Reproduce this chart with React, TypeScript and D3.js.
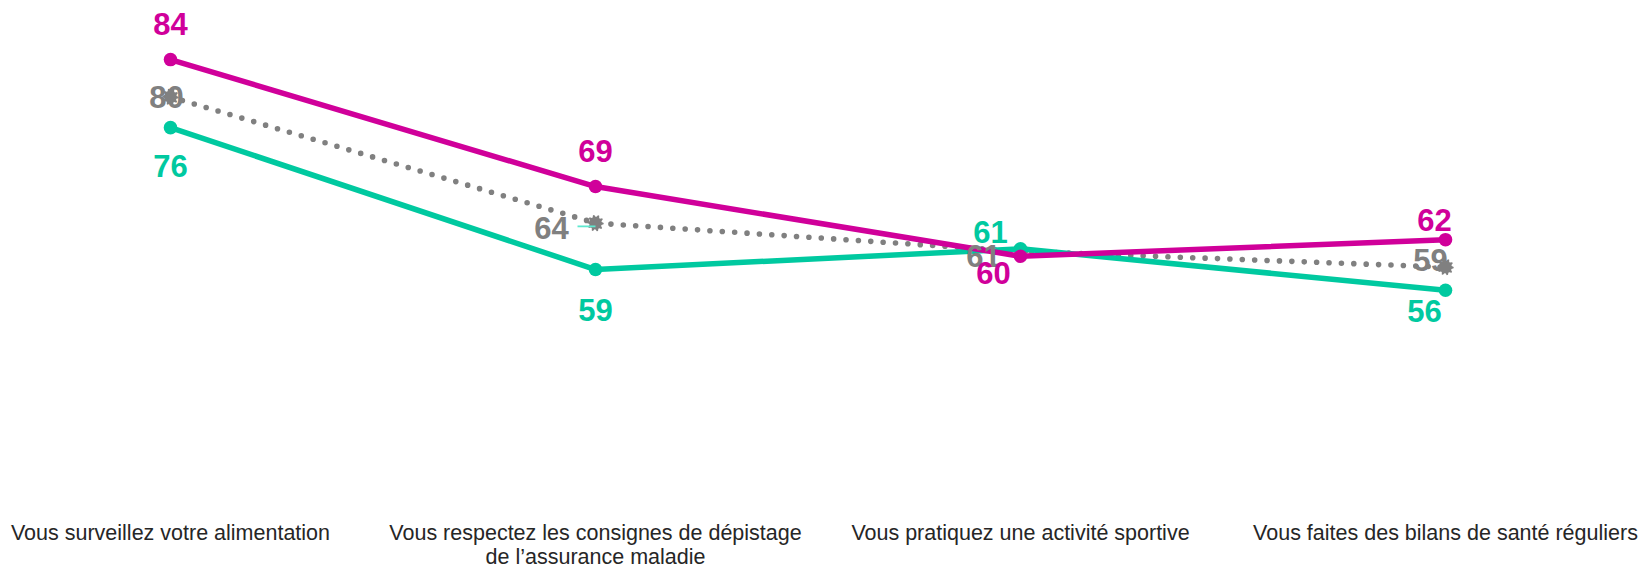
import React from "react";
import * as d3 from "d3";

const categories: string[][] = [
  ["Vous surveillez votre alimentation"],
  ["Vous respectez les consignes de dépistage", "de l’assurance maladie"],
  ["Vous pratiquez une activité sportive"],
  ["Vous faites des bilans de santé réguliers"],
];

const magentaValues = [84.1, 68.8, 60.4, 62.4];
const tealValues = [75.9, 58.8, 61.3, 56.3];
const greyValues = [79.6, 64.4, 61.0, 59.1];

// label nudges (dx, dy to baseline) per point
const magentaNudge = [[0, -24.5], [0, -25], [-27, 28], [-11, -8.5]];
const tealNudge = [[0, 49.5], [0, 51], [-30, -6], [-21, 32]];
const greyNudge = [[-4, 11], [-44, 15.5], [-37, 15.5], [-15, 3.5]];

const W = 1641;
const H = 565;
const MAGENTA = "#D0009A";
const TEAL = "#00C9A0";
const GREY = "#808080";
const FONT = "'Liberation Sans', Arial, sans-serif";

const x = d3
  .scalePoint<number>()
  .domain(categories.map((_, i) => i))
  .range([170.5, 1445.5]);
const y = d3.scaleLinear().domain([30, 90]).range([508.6, 10.6]);

const line = d3
  .line<number>()
  .x((_, i) => x(i) as number)
  .y((d) => y(d));

function gearPath(cx: number, cy: number, rOut: number, rIn: number, teeth: number) {
  const pts: [number, number][] = [];
  const n = teeth * 4;
  for (let k = 0; k < n; k++) {
    const a = (k / n) * Math.PI * 2;
    const r = k % 4 < 2 ? rOut : rIn;
    pts.push([cx + r * Math.cos(a), cy + r * Math.sin(a)]);
  }
  return "M" + pts.map((p) => p.join(",")).join("L") + "Z";
}

export default function App() {
  return (
    <svg
      width={W}
      height={H}
      style={{ position: "absolute", left: 0, top: 0, background: "#fff" }}
    >
      {/* grey dotted series */}
      <path
        d={line(greyValues) || ""}
        fill="none"
        stroke={GREY}
        strokeWidth={5.6}
        strokeLinecap="round"
        strokeDasharray="0 12.4"
      />
      {greyValues.map((v, i) => (
        <path key={"gm" + i} d={gearPath(x(i) as number, y(v), 8.2, 6.3, 10)} fill={GREY} />
      ))}
      {/* teal series */}
      <path d={line(tealValues) || ""} fill="none" stroke={TEAL} strokeWidth={5.5} strokeLinejoin="round" />
      {tealValues.map((v, i) => (
        <circle key={"tm" + i} cx={x(i) as number} cy={y(v)} r={6.8} fill={TEAL} />
      ))}
      {/* magenta series */}
      <path d={line(magentaValues) || ""} fill="none" stroke={MAGENTA} strokeWidth={5.5} strokeLinejoin="round" />
      {magentaValues.map((v, i) => (
        <circle key={"mm" + i} cx={x(i) as number} cy={y(v)} r={6.8} fill={MAGENTA} />
      ))}

      {/* small leader line near grey label 2 */}
      <line
        x1={(x(1) as number) - 18}
        x2={x(1) as number}
        y1={y(greyValues[1]) + 3.3}
        y2={y(greyValues[1]) + 3.3}
        stroke="#5FE8CF"
        strokeWidth={1.8}
      />

      {/* data labels */}
      <g fontFamily={FONT} fontWeight="bold" fontSize={31} textAnchor="middle">
        {greyValues.map((v, i) => (
          <text key={"gl" + i} x={(x(i) as number) + greyNudge[i][0]} y={y(v) + greyNudge[i][1]} fill={GREY}>
            {Math.round(v)}
          </text>
        ))}
        {tealValues.map((v, i) => (
          <text key={"tl" + i} x={(x(i) as number) + tealNudge[i][0]} y={y(v) + tealNudge[i][1]} fill={TEAL}>
            {Math.round(v)}
          </text>
        ))}
        {magentaValues.map((v, i) => (
          <text key={"ml" + i} x={(x(i) as number) + magentaNudge[i][0]} y={y(v) + magentaNudge[i][1]} fill={MAGENTA}>
            {Math.round(v)}
          </text>
        ))}
      </g>

      {/* category labels */}
      <g fontFamily={FONT} fontSize={21.5} fill="#262626" textAnchor="middle">
        {categories.map((lines, i) => (
          <text key={"c" + i} x={x(i) as number} y={540}>
            {lines.map((t, j) => (
              <tspan key={j} x={x(i) as number} dy={j === 0 ? 0 : 23.5}>
                {t}
              </tspan>
            ))}
          </text>
        ))}
      </g>
    </svg>
  );
}
